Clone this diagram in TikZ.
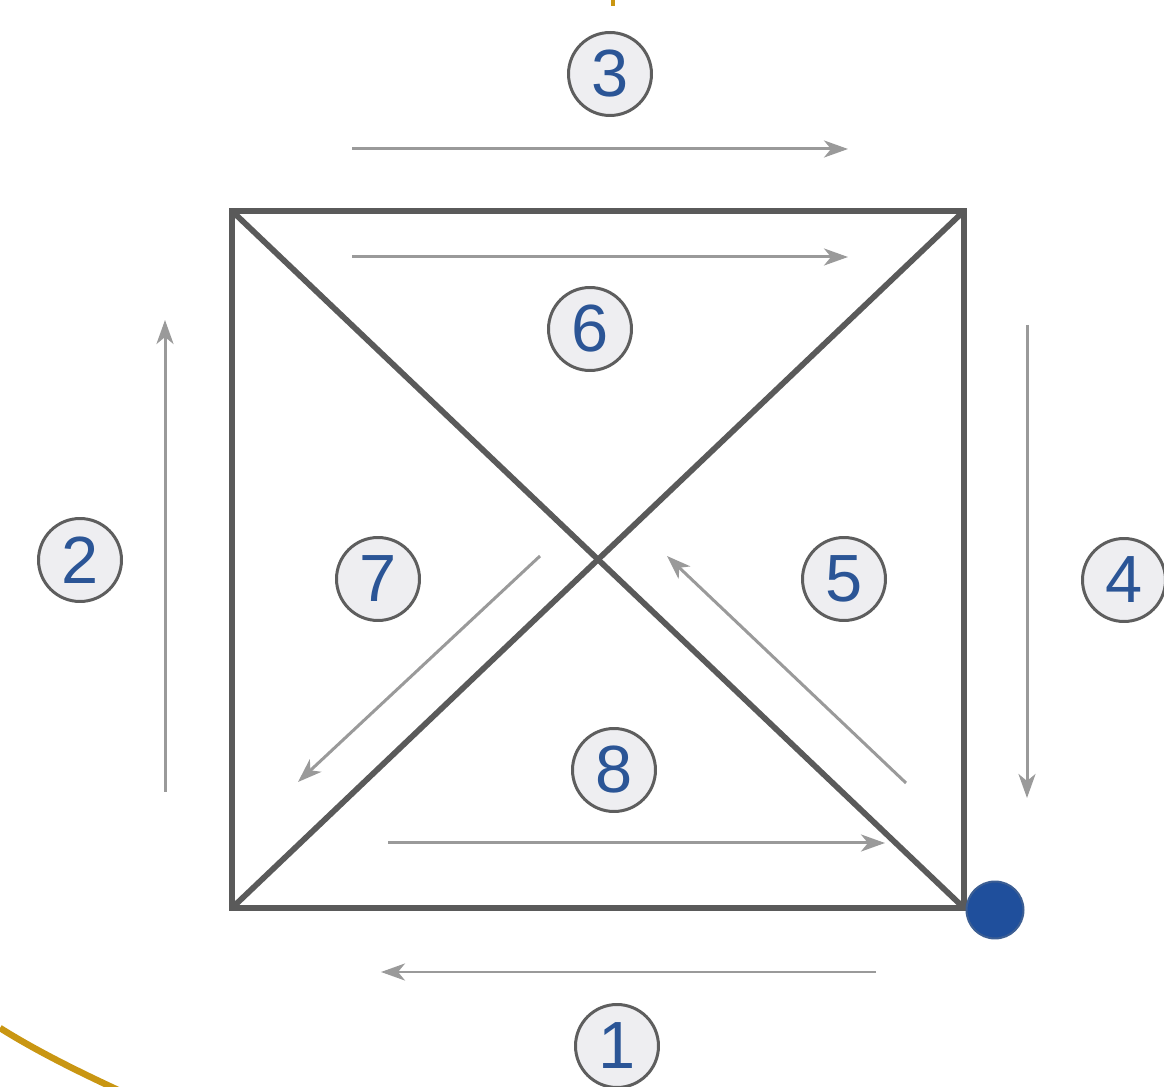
\documentclass[tikz,border=0pt]{standalone}
\usepackage{fontspec}
\setmainfont{Liberation Sans}
\usetikzlibrary{arrows.meta}
\definecolor{sqgray}{HTML}{5A5A5A}
\definecolor{arrgray}{HTML}{9A9A9A}
\definecolor{numblue}{HTML}{2B5596}
\definecolor{circfill}{HTML}{EEEEF1}
\definecolor{circline}{HTML}{5E5E5E}
\definecolor{dotblue}{HTML}{1F4F9C}
\definecolor{gold}{HTML}{C99612}
\tikzset{
  px/.style={x=0.02cm,y=-0.02cm},
  sqline/.style={draw=sqgray,line width=0.115cm,line cap=round,line join=miter},
  flowarrow/.style={draw=arrgray,line width=0.06cm,-{Stealth[length=0.48cm,width=0.34cm,inset=0.14cm]}},
  numcirc/.style={circle,draw=circline,fill=circfill,line width=0.06cm,minimum size=1.66cm,inner sep=0pt,text=numblue,font=\fontsize{38}{40}\selectfont},
}
\begin{document}
\begin{tikzpicture}[px]
\useasboundingbox (0,0) rectangle (1164,1087);
% square corners
\coordinate (TL) at (232,211);
\coordinate (TR) at (964,211);
\coordinate (BR) at (964,908);
\coordinate (BL) at (232,908);
\draw[sqline] (TL) -- (TR) -- (BR) -- (BL) -- cycle;
\draw[sqline] (TL) -- (BR);
\draw[sqline] (TR) -- (BL);
% arrows
\coordinate (a3s) at (352,149); \coordinate (a3e) at (848,149);
\coordinate (a6s) at (352,257); \coordinate (a6e) at (848,257);
\coordinate (a2s) at (165,792); \coordinate (a2e) at (165,320);
\coordinate (a4s) at (1027,325); \coordinate (a4e) at (1027,798);
\coordinate (a7s) at (540,556); \coordinate (a7e) at (298,782);
\coordinate (a5s) at (906,783); \coordinate (a5e) at (667,556);
\coordinate (a8s) at (388,843); \coordinate (a8e) at (885,843);
\coordinate (a1s) at (876,972); \coordinate (a1e) at (381,972);
\draw[flowarrow] (a3s) -- (a3e);
\draw[flowarrow] (a6s) -- (a6e);
\draw[flowarrow] (a2s) -- (a2e);
\draw[flowarrow] (a4s) -- (a4e);
\draw[flowarrow] (a7s) -- (a7e);
\draw[flowarrow] (a5s) -- (a5e);
\draw[flowarrow] (a8s) -- (a8e);
\draw[flowarrow] (a1s) -- (a1e);
% numbered circles
\node[numcirc] (n3) at (610,74) {3};
\node[numcirc] (n6) at (590,329) {6};
\node[numcirc] (n2) at (80,560) {2};
\node[numcirc] (n7) at (378,579) {7};
\node[numcirc] (n5) at (844,579) {5};
\node[numcirc] (n4) at (1124,580) {4};
\node[numcirc] (n8) at (614,770) {8};
\node[numcirc] (n1) at (617,1046) {1};
% start dot
\node[circle,fill=dotblue,draw=dotblue!70!gray,line width=0.04cm,minimum size=1.14cm,inner sep=0pt] (dot) at (995,910) {};
% gold fragments
\draw[gold,line width=0.13cm] (0,1028) .. controls (35,1050) and (75,1070) .. (118,1090);
\draw[gold,line width=0.08cm] (613,-2) -- (613,6);
\end{tikzpicture}
\end{document}
